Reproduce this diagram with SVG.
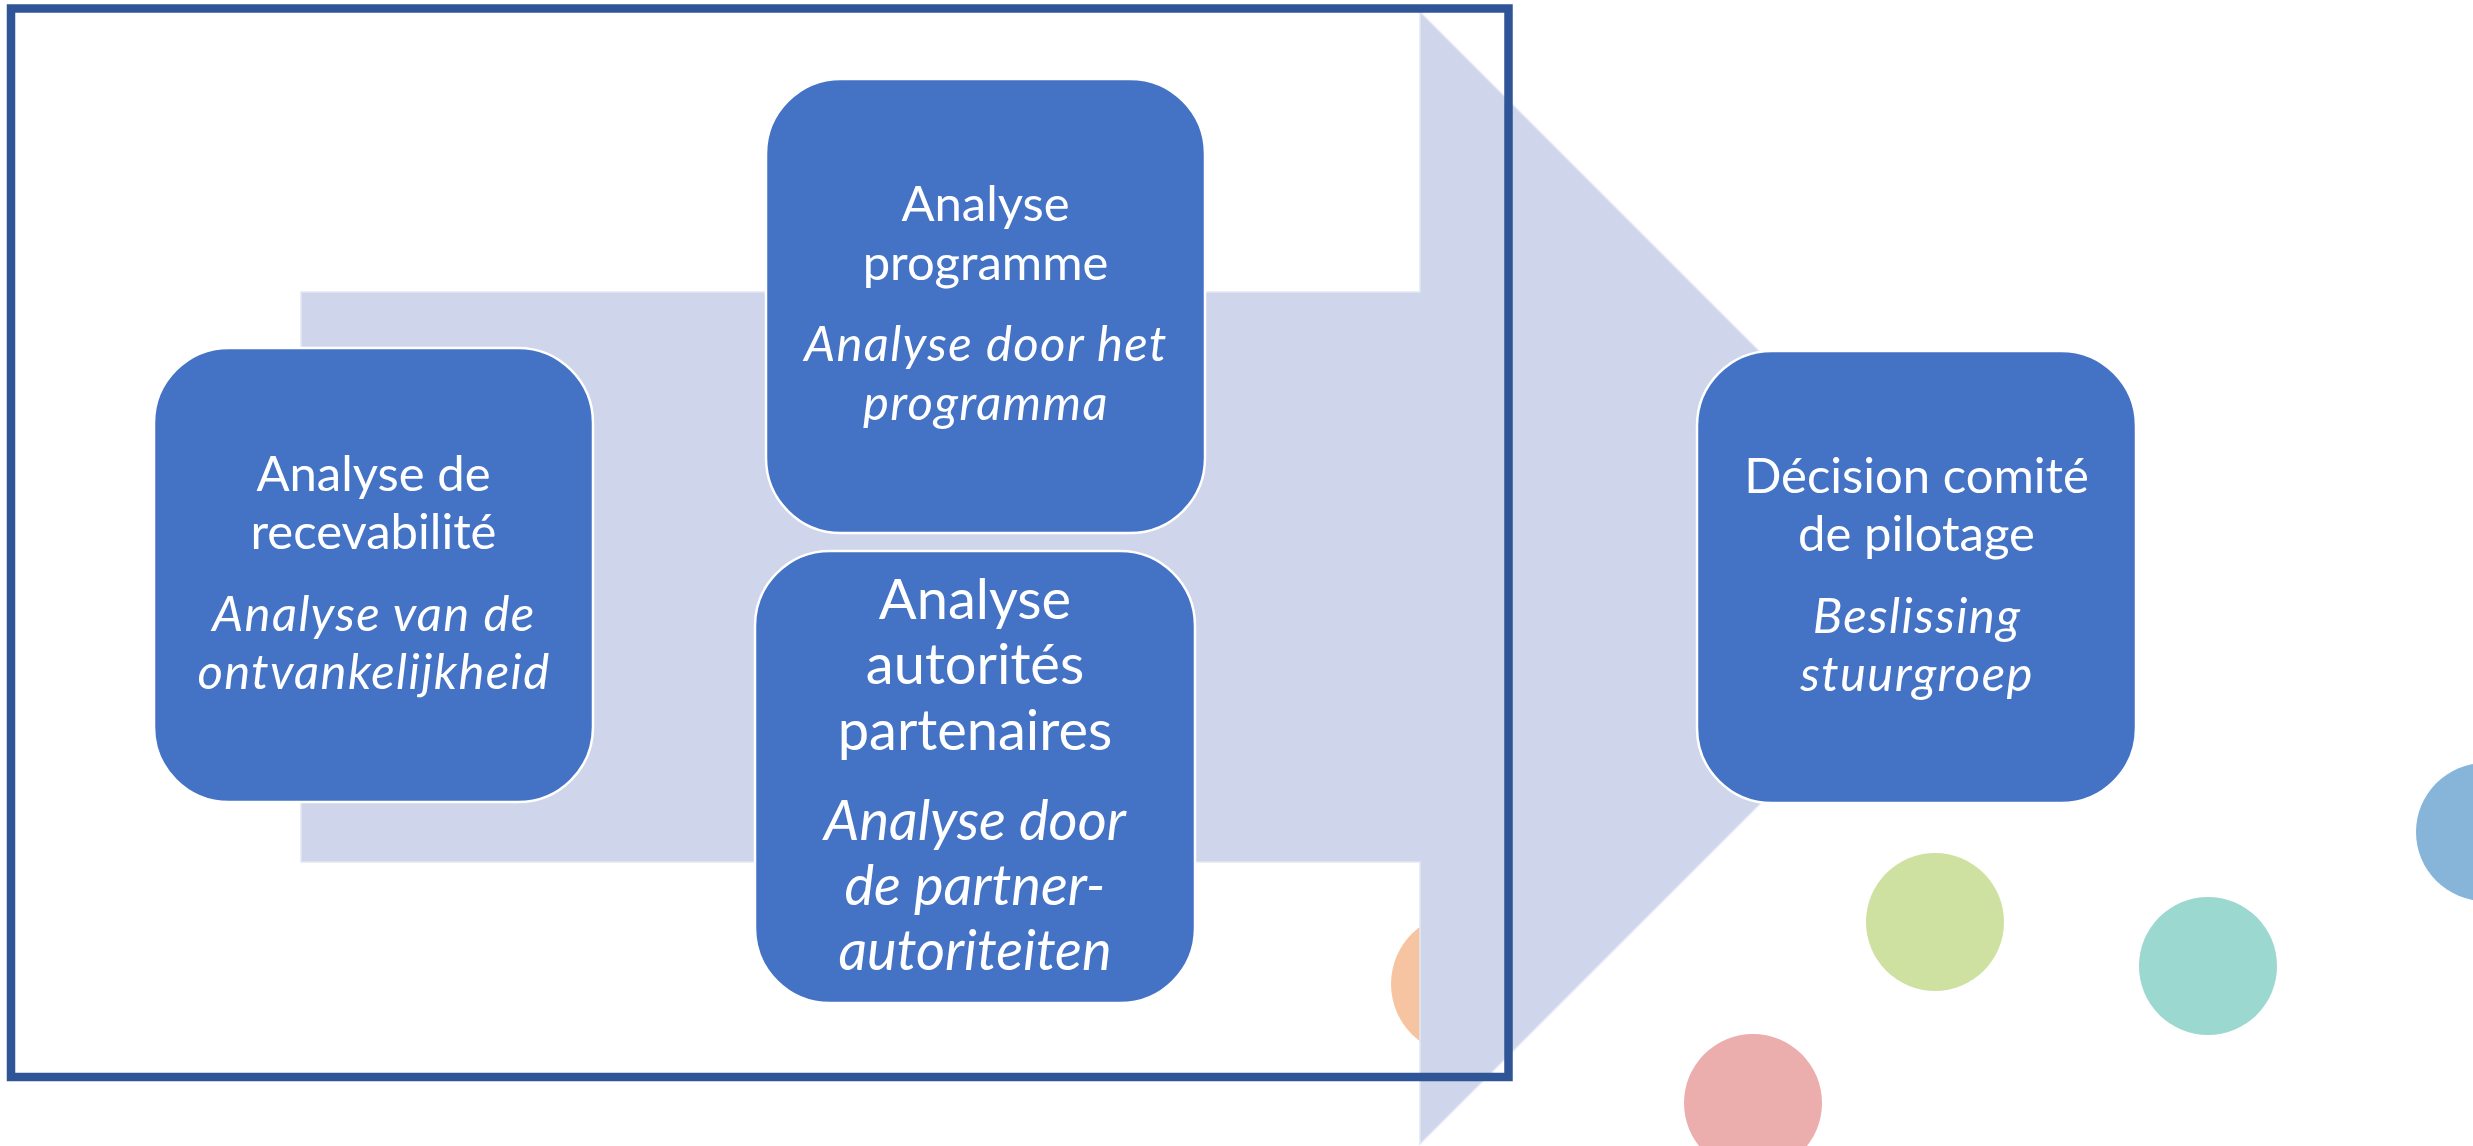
<svg xmlns="http://www.w3.org/2000/svg" width="2473" height="1146" viewBox="0 0 2473 1146">
<style>
.node rect{fill:#4472C4;stroke:#FFFFFF;stroke-width:2.5}
.t{font-family:Lato,"Liberation Sans",sans-serif;fill:#FFFFFF;text-anchor:middle;font-size:49px}
.i{font-style:italic;letter-spacing:1.4px}
.big{font-size:56px}
.big.i{letter-spacing:0}
.dot{stroke:none}
</style>
<rect x="0" y="0" width="2473" height="1146" fill="#FFFFFF"/>
<g id="decor-circles">
<circle class="dot" cx="1462" cy="984" r="71" fill="#F6C4A1"/>
<circle class="dot" cx="1935" cy="922" r="69" fill="#CFE1A1"/>
<circle class="dot" cx="2208" cy="966" r="69" fill="#9AD8D0"/>
<circle class="dot" cx="1753" cy="1103" r="69" fill="#ECADAD"/>
<circle class="dot" cx="2485" cy="832" r="69" fill="#87B5DA"/>
</g>
<g id="connectors">
<polygon points="301,292 1420,292 1420,12 1986,578 1420,1144 1420,862 301,862" fill="#CFD5EA" stroke="#E4E8F4" stroke-width="1.5"/>
</g>
<g id="frame">
<rect x="11" y="8.5" width="1497.5" height="1068.5" fill="none" stroke="#2F5597" stroke-width="8.5"/>
</g>
<g id="node-recevabilite" class="node">
<rect x="154" y="348" width="439" height="454" rx="75" ry="75"/>
<text class="t" x="373.5" y="491">Analyse de</text>
<text class="t" x="373.5" y="549">recevabilité</text>
<text class="t i" x="374" y="631">Analyse van de</text>
<text class="t i" x="374" y="689">ontvankelijkheid</text>
</g>
<g id="node-programme" class="node">
<rect x="766" y="79" width="439" height="454" rx="75" ry="75"/>
<text class="t" x="985.5" y="221">Analyse</text>
<text class="t" x="985.5" y="280">programme</text>
<text class="t i" x="986" y="361">Analyse door het</text>
<text class="t i" x="986" y="420">programma</text>
</g>
<g id="node-autorites" class="node">
<rect x="755" y="551" width="440" height="452" rx="75" ry="75"/>
<text class="t big" x="975" y="619">Analyse</text>
<text class="t big" x="975" y="684">autorités</text>
<text class="t big" x="975" y="750">partenaires</text>
<text class="t big i" x="975" y="840">Analyse door</text>
<text class="t big i" x="975" y="905">de partner-</text>
<text class="t big i" x="975" y="970">autoriteiten</text>
</g>
<g id="node-decision" class="node">
<rect x="1697" y="351" width="439" height="452" rx="75" ry="75"/>
<text class="t" x="1916.5" y="493">Décision comité</text>
<text class="t" x="1916.5" y="551">de pilotage</text>
<text class="t i" x="1917" y="633">Beslissing</text>
<text class="t i" x="1917" y="691">stuurgroep</text>
</g>
</svg>
